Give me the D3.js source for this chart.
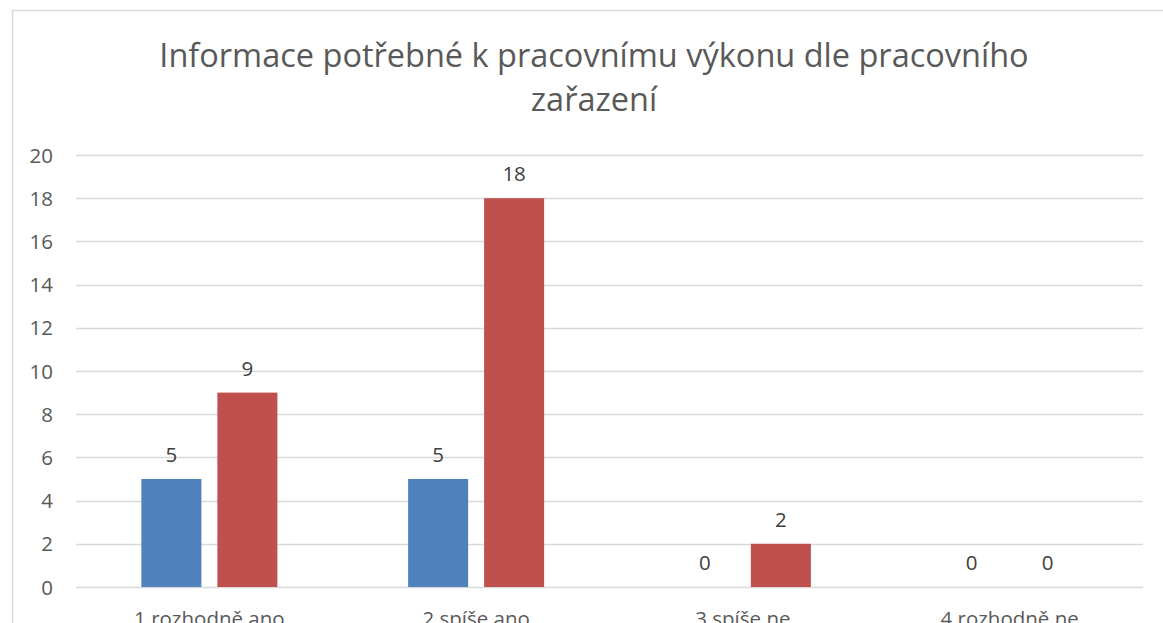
<!DOCTYPE html>
<html>
<head>
<meta charset="utf-8">
<script src="https://cdn.jsdelivr.net/npm/d3@7"></script>
<style>
  body { margin: 0; background: #fff; overflow: hidden; }
  svg { display: block; font-family: "Open Sans", "Noto Sans", sans-serif; }
</style>
</head>
<body>
<div id="chart"></div>
<script>
const categories = ["1 rozhodně ano", "2 spíše ano", "3 spíše ne", "4 rozhodně ne"];
const seriesBlue = [5, 5, 0, 0];
const seriesRed = [9, 18, 2, 0];
const yTicks = [0, 2, 4, 6, 8, 10, 12, 14, 16, 18, 20];
const titleLines = ["Informace potřebné k pracovnímu výkonu dle pracovního", "zařazení"];

const width = 1163, height = 623;

const svg = d3.select("#chart").append("svg")
    .attr("width", width)
    .attr("height", height);

// chart area border (runs off the right and bottom edges)
svg.append("rect")
    .attr("x", 12.5).attr("y", 10.5)
    .attr("width", 1200).attr("height", 700)
    .attr("fill", "none")
    .attr("stroke", "#d9d9d9")
    .attr("stroke-width", 1.5);

const x = d3.scaleBand()
    .domain(categories)
    .range([76, 1143]);

const y = d3.scaleLinear()
    .domain([0, 20])
    .range([587, 155]);

const series = [
    {name: "a", values: seriesBlue, color: "#4f81bd"},
    {name: "b", values: seriesRed, color: "#c0504d"}
];

const inner = d3.scaleBand()
    .domain(series.map(s => s.name))
    .range([0, x.bandwidth()])
    .paddingInner(0.21)
    .paddingOuter(0.86);

// gridlines
svg.append("g")
    .selectAll("line")
    .data(yTicks)
    .join("line")
    .attr("x1", 76).attr("x2", 1143)
    .attr("y1", d => Math.round(y(d)) + 0.5)
    .attr("y2", d => Math.round(y(d)) + 0.5)
    .attr("stroke", "#d9d9d9")
    .attr("stroke-width", 1.3);

// y axis labels
svg.append("g")
    .selectAll("text")
    .data(yTicks)
    .join("text")
    .attr("x", 53)
    .attr("y", d => y(d) + 7.5)
    .attr("text-anchor", "end")
    .attr("font-size", 20.5)
    .attr("fill", "#595959")
    .text(d => d);

// bars
const groups = svg.append("g")
    .selectAll("g")
    .data(series)
    .join("g")
    .attr("fill", d => d.color);

groups.selectAll("rect")
    .data(s => s.values.map((v, i) => ({s: s.name, cat: categories[i], v: v})))
    .join("rect")
    .attr("x", d => x(d.cat) + inner(d.s))
    .attr("width", inner.bandwidth())
    .attr("y", d => y(d.v))
    .attr("height", d => y(0) - y(d.v));

// value labels
groups.selectAll("text")
    .data(s => s.values.map((v, i) => ({s: s.name, cat: categories[i], v: v})))
    .join("text")
    .attr("x", d => x(d.cat) + inner(d.s) + inner.bandwidth() / 2)
    .attr("y", d => y(d.v) - 17)
    .attr("text-anchor", "middle")
    .attr("font-size", 20.5)
    .attr("fill", "#404040")
    .text(d => d.v);

// category labels (cut by the bottom edge, as in the original)
svg.append("g")
    .selectAll("text")
    .data(categories)
    .join("text")
    .attr("x", d => x(d) + x.bandwidth() / 2)
    .attr("y", 626)
    .attr("text-anchor", "middle")
    .attr("font-size", 20.5)
    .attr("fill", "#595959")
    .text(d => d);

// title
svg.append("g")
    .selectAll("text")
    .data(titleLines)
    .join("text")
    .attr("x", 594)
    .attr("y", (d, i) => 67 + i * 44)
    .attr("text-anchor", "middle")
    .attr("font-size", 32.5)
    .attr("fill", "#595959")
    .text(d => d);
</script>
</body>
</html>
